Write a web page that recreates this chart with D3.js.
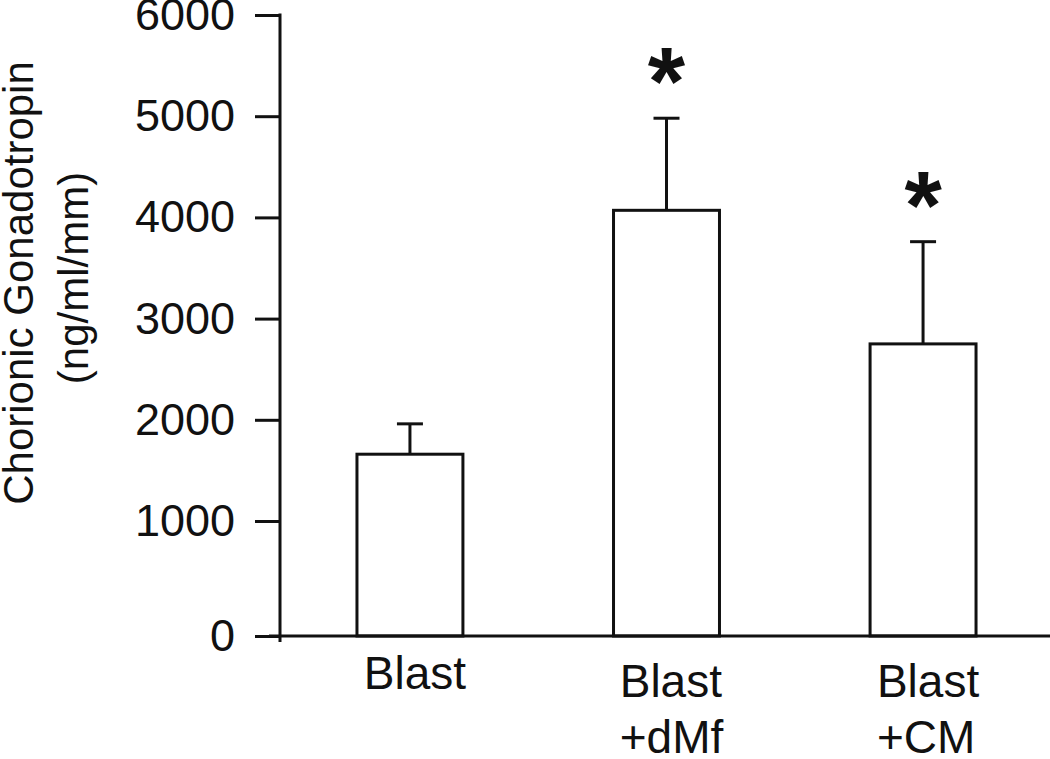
<!DOCTYPE html>
<html>
<head>
<meta charset="utf-8">
<script src="https://cdn.jsdelivr.net/npm/d3@7"></script>
<style>
  body { margin: 0; background: #fff; }
  text { font-family: "Liberation Sans", Arial, sans-serif; fill: #111; }
</style>
</head>
<body>
<div id="chart"></div>
<script>
// values
const categories = ["Blast", "Blast +dMf", "Blast +CM"];
const labelLines = [["Blast"], ["Blast", "+dMf"], ["Blast", "+CM"]];
const means = [1660, 4070, 2750];
const errors = [300, 910, 1010];
const significant = [false, true, true];
const yTicks = [0, 1000, 2000, 3000, 4000, 5000, 6000];
const yTitle = ["Chorionic Gonadotropin", "(ng/ml/mm)"];

const width = 1050, height = 759;
const ink = "#111";

const svg = d3.select("#chart")
    .append("svg")
        .attr("width", width)
        .attr("height", height);

// the original axis puts 0 a bit lower than the linear spacing of the other ticks
const y = d3.scaleLinear()
    .domain([0, 1000, 6000])
    .range([636, 521, 15]);

const x = d3.scaleBand()
    .domain(categories)
    .range([280, 1053])
    .paddingInner(0.587)
    .paddingOuter(0.3);

const data = categories.map(function(c, i) {
    return { cat: c, mean: means[i], err: errors[i], sig: significant[i], lines: labelLines[i] };
});

// y axis
const yAxis = svg.append("g")
    .attr("transform", "translate(280,0)")
    .call(d3.axisLeft(y).tickValues(yTicks).tickSize(25).tickPadding(20).tickFormat(d3.format("d")));
yAxis.select(".domain").remove();
yAxis.selectAll(".tick line").attr("stroke", ink).attr("stroke-width", 3);
yAxis.selectAll(".tick text")
    .style("font-size", "45px")
    .style("font-family", "'Liberation Sans', Arial, sans-serif")
    .attr("fill", ink);

svg.append("line")
    .attr("x1", 280).attr("x2", 280)
    .attr("y1", y(6000) - 1.5).attr("y2", y(0) + 6)
    .attr("stroke", ink).attr("stroke-width", 3);

// bars
svg.selectAll("rect.bar")
    .data(data)
    .enter().append("rect")
        .attr("class", "bar")
        .attr("x", d => x(d.cat))
        .attr("y", d => y(d.mean))
        .attr("width", x.bandwidth())
        .attr("height", d => y(0) - y(d.mean))
        .attr("fill", "#fff")
        .attr("stroke", ink)
        .attr("stroke-width", 3);

// error bars (upper only)
const eb = svg.selectAll("g.err")
    .data(data)
    .enter().append("g")
        .attr("class", "err");
eb.append("line")
    .attr("x1", d => x(d.cat) + x.bandwidth() / 2)
    .attr("x2", d => x(d.cat) + x.bandwidth() / 2)
    .attr("y1", d => y(d.mean))
    .attr("y2", d => y(d.mean + d.err))
    .attr("stroke", ink).attr("stroke-width", 3);
eb.append("line")
    .attr("x1", d => x(d.cat) + x.bandwidth() / 2 - 13)
    .attr("x2", d => x(d.cat) + x.bandwidth() / 2 + 13)
    .attr("y1", d => y(d.mean + d.err))
    .attr("y2", d => y(d.mean + d.err))
    .attr("stroke", ink).attr("stroke-width", 3);

// significance stars
svg.selectAll("text.star")
    .data(data.filter(d => d.sig))
    .enter().append("text")
        .attr("class", "star")
        .attr("x", d => x(d.cat) + x.bandwidth() / 2)
        .attr("y", d => y(d.mean + d.err) - 4)
        .attr("text-anchor", "middle")
        .style("font-size", "96px")
        .style("font-weight", "bold")
        .text("*");

// x axis line
svg.append("line")
    .attr("x1", 269).attr("x2", width)
    .attr("y1", y(0)).attr("y2", y(0))
    .attr("stroke", ink).attr("stroke-width", 3);

// category labels
const lab = svg.selectAll("text.cat")
    .data(data)
    .enter().append("text")
        .attr("class", "cat")
        .style("font-size", "46px")
        .attr("y", d => d.lines.length > 1 ? 697 : 689);
lab.selectAll("tspan")
    .data(d => d.lines.map(l => ({ line: l, d: d })))
    .enter().append("tspan")
        .attr("dy", (t, i) => i === 0 ? 0 : 56)
        .text(t => t.line);
lab.each(function(d) {
    const el = d3.select(this);
    const w = d3.max(el.selectAll("tspan").nodes(), n => n.getComputedTextLength());
    const left = x(d.cat) + x.bandwidth() / 2 - w / 2 + 5;
    el.selectAll("tspan").attr("x", left);
});

// y title
svg.append("text")
    .attr("transform", "translate(33,283) rotate(-90)")
    .attr("text-anchor", "middle")
    .style("font-size", "42px")
    .text(yTitle[0]);
svg.append("text")
    .attr("transform", "translate(88,278) rotate(-90)")
    .attr("text-anchor", "middle")
    .style("font-size", "42px")
    .text(yTitle[1]);
</script>
</body>
</html>
